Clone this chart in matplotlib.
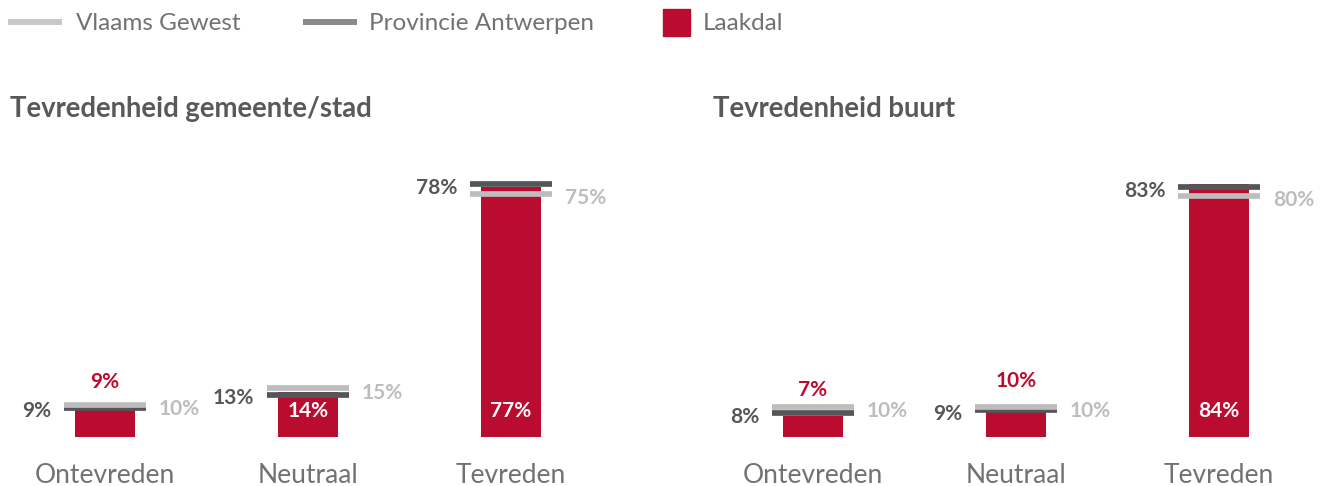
import matplotlib
matplotlib.use('Agg')
import matplotlib.pyplot as plt
from matplotlib.lines import Line2D
from matplotlib.patches import Rectangle

plt.rcParams['font.family'] = ['Lato', 'DejaVu Sans']

categories = ['Ontevreden', 'Neutraal', 'Tevreden']

gemeente_laakdal = [9, 14, 77]
gemeente_provincie = [9, 13, 78]
gemeente_vlaanderen = [10, 15, 75]

buurt_laakdal = [7, 10, 84]
buurt_provincie = [8, 9, 83]
buurt_vlaanderen = [10, 10, 80]

RED = '#ba0c2f'
DARK = '#55565a'
LIGHT = '#bdbdbd'
TEXT = '#58595b'
SOFT = '#717275'

W, H = 1329, 486
fig = plt.figure(figsize=(W / 100, H / 100), dpi=100)


def panel(left, laakdal, provincie, vlaanderen):
    ax = fig.add_axes([left / W, 49 / H, 609 / W, 287 / H])
    x = range(len(categories))
    ax.bar(x, laakdal, width=0.3, color=RED, zorder=1)
    ax.hlines(provincie, [i - 0.2 for i in x], [i + 0.2 for i in x],
              color=DARK, lw=4.1, capstyle='butt', zorder=2)
    ax.hlines(vlaanderen, [i - 0.2 for i in x], [i + 0.2 for i in x],
              color=LIGHT, lw=4.1, capstyle='butt', zorder=3)

    ymax = max(laakdal + provincie + vlaanderen) * 1.135
    ax.set_xlim(-0.5, len(categories) - 0.5)
    ax.set_ylim(0, ymax)

    for i, (l, p, v) in enumerate(zip(laakdal, provincie, vlaanderen)):
        ax.annotate(f'{p}%', (i - 0.2, p), xytext=(-9.4, -2.6), textcoords='offset points',
                    ha='right', va='center', color=DARK, fontsize=15, fontweight='bold')
        ax.annotate(f'{v}%', (i + 0.2, v), xytext=(9.4, -3), textcoords='offset points',
                    ha='left', va='center', color=LIGHT, fontsize=15, fontweight='bold')
        if l > 12:
            ax.annotate(f'{l}%', (i, 0), xytext=(0, 18.5), textcoords='offset points',
                        ha='center', va='center', color='white', fontsize=15, fontweight='bold')
        else:
            ax.annotate(f'{l}%', (i, l), xytext=(0, 18.7), textcoords='offset points',
                        ha='center', va='center', color=RED, fontsize=15, fontweight='bold')

    ax.set_xticks(list(x))
    ax.set_xticklabels(categories, fontsize=19, color=SOFT)
    ax.tick_params(axis='x', length=0, pad=18.5)
    ax.set_yticks([])
    for s in ax.spines.values():
        s.set_visible(False)
    return ax


panel(3.5, gemeente_laakdal, gemeente_provincie, gemeente_vlaanderen)
panel(711.5, buurt_laakdal, buurt_provincie, buurt_vlaanderen)

fig.text(10 / W, 1 - 109 / H, 'Tevredenheid gemeente/stad', fontsize=19.8,
         fontweight='bold', color=TEXT, va='center')
fig.text(713 / W, 1 - 109 / H, 'Tevredenheid buurt', fontsize=19.8,
         fontweight='bold', color=TEXT, va='center')

# legend along the top edge
ly = 1 - 22 / H
ty = 1 - 24 / H
fig.add_artist(Line2D([8 / W, 62 / W], [ly, ly], color='#c8c8c8', lw=4.3,
                      solid_capstyle='butt'))
fig.text(76 / W, ty, 'Vlaams Gewest', fontsize=17.5, color=SOFT, va='center')
fig.add_artist(Line2D([303 / W, 357 / W], [ly, ly], color='#898b8d', lw=4.3,
                      solid_capstyle='butt'))
fig.text(369 / W, ty, 'Provincie Antwerpen', fontsize=17.5, color=SOFT, va='center')
fig.add_artist(Rectangle((663 / W, 1 - 36 / H), 27 / W, 27 / H, color=RED,
                         transform=fig.transFigure))
fig.text(703 / W, ty, 'Laakdal', fontsize=17.5, color=SOFT, va='center')

fig.savefig('out.png', dpi=100, facecolor='white')
